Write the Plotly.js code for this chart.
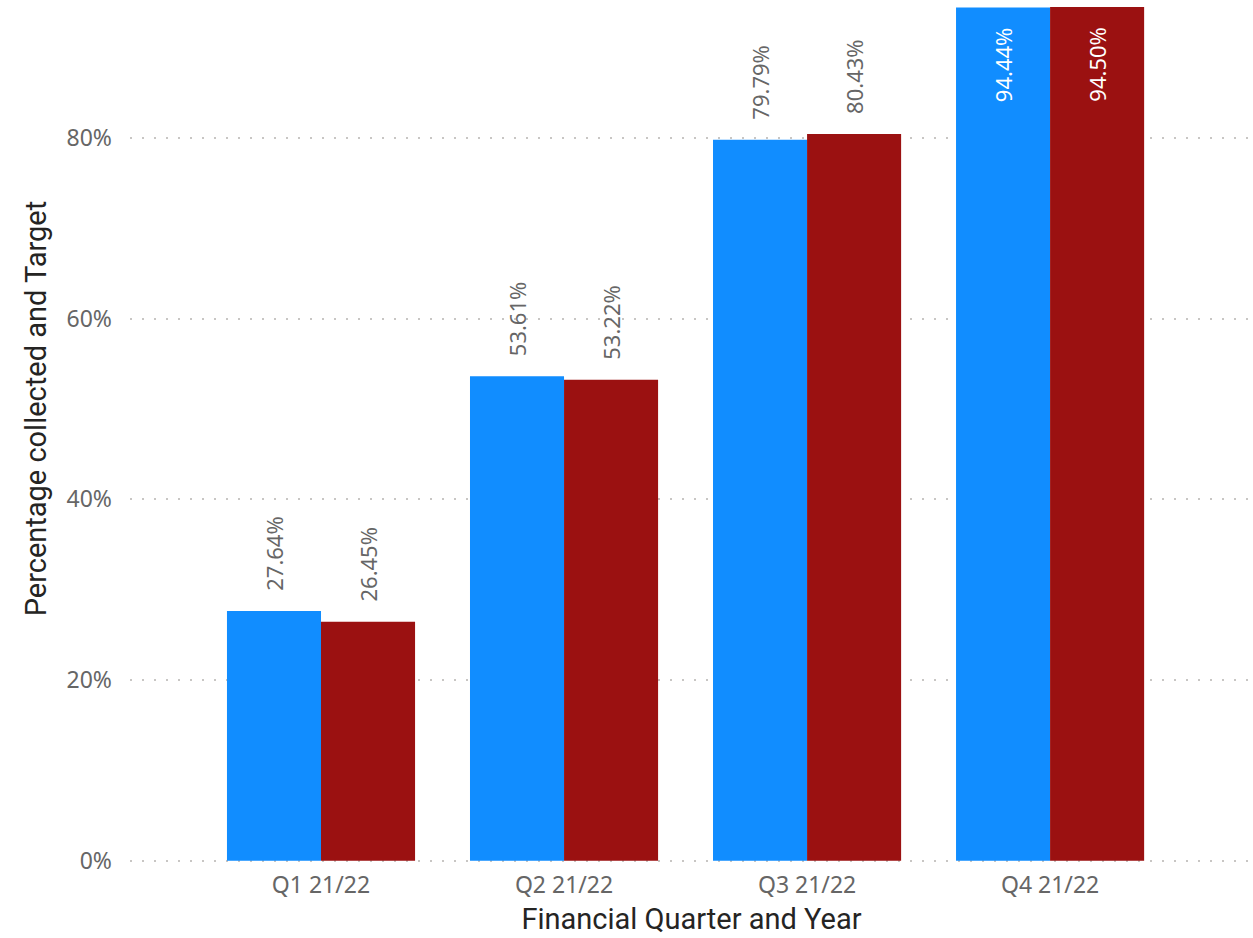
<!DOCTYPE html>
<html>
<head>
<meta charset="utf-8">
<script src="https://cdn.plot.ly/plotly-3.0.1.min.js"></script>
<style>html,body{margin:0;padding:0;background:#fff;}#chart{width:1253px;height:938px;}</style>
</head>
<body>
<div id="chart"></div>
<script>
const categories = ["Q1 21/22", "Q2 21/22", "Q3 21/22", "Q4 21/22"];
const collected = [27.64, 53.61, 79.79, 94.44];
const target = [26.45, 53.22, 80.43, 94.50];
const yTickVals = [0, 20, 40, 60, 80];
const yTickText = ["0%", "20%", "40%", "60%", "80%"];
const xTitle = "Financial Quarter and Year";
const yTitle = "Percentage collected and Target";
const insideFrom = 90; // labels of bars above this value are drawn inside

const PAD = "\u00a0\u00a0\u00a0";
function labels(vals) {
  return vals.map(v => v > insideFrom ? (v.toFixed(2) + "%" + PAD) : (PAD + v.toFixed(2) + "%"));
}
function positions(vals) {
  return vals.map(v => v > insideFrom ? "inside" : "outside");
}
function colors(vals) {
  return vals.map(v => v > insideFrom ? "#ffffff" : "#666666");
}

const labelFont = {family: "Noto Sans, sans-serif", size: 22};
const titleFont = {family: "Roboto, sans-serif", size: 29, color: "#252423", weight: 400};

const traces = [
  {
    type: "bar", name: "Percentage collected", x: categories, y: collected,
    marker: {color: "#118DFF"},
    text: labels(collected), textposition: positions(collected), textangle: -90,
    insidetextanchor: "end", cliponaxis: false,
    textfont: Object.assign({color: colors(collected)}, labelFont),
    hoverinfo: "x+y"
  },
  {
    type: "bar", name: "Target", x: categories, y: target,
    marker: {color: "#9B1111"},
    text: labels(target), textposition: positions(target), textangle: -90,
    insidetextanchor: "end", cliponaxis: false,
    textfont: Object.assign({color: colors(target)}, labelFont),
    hoverinfo: "x+y"
  }
];

const layout = {
  width: 1253, height: 938,
  margin: {l: 130, r: 0, t: 0, b: 76},
  paper_bgcolor: "#ffffff", plot_bgcolor: "#ffffff",
  showlegend: false,
  barmode: "group", bargap: 0.226, bargroupgap: 0,
  uniformtext: {mode: false},
  xaxis: {
    type: "category", range: [-0.786, 3.835],
    showgrid: false, zeroline: false, showline: false, ticks: "",
    ticklabelstandoff: 7,
    tickfont: {family: "Noto Sans, sans-serif", size: 23, color: "#666666"},
    title: {text: xTitle, standoff: 9, font: titleFont}
  },
  yaxis: {
    range: [-0.15, 95.27], tickvals: yTickVals, ticktext: yTickText,
    showgrid: true, gridcolor: "#C8C6C4", gridwidth: 2, griddash: "2px,10px",
    zeroline: false, showline: false, ticks: "", ticklabelstandoff: 17,
    tickfont: {family: "Noto Sans, sans-serif", size: 23, color: "#666666"}
  },
  annotations: [
    {
      text: yTitle, textangle: -90, showarrow: false,
      xref: "paper", yref: "paper", x: -0.0837, y: 0.5263,
      xanchor: "center", yanchor: "middle", font: titleFont
    }
  ]
};

Plotly.newPlot("chart", traces, layout, {displayModeBar: false, staticPlot: true});
</script>
</body>
</html>
